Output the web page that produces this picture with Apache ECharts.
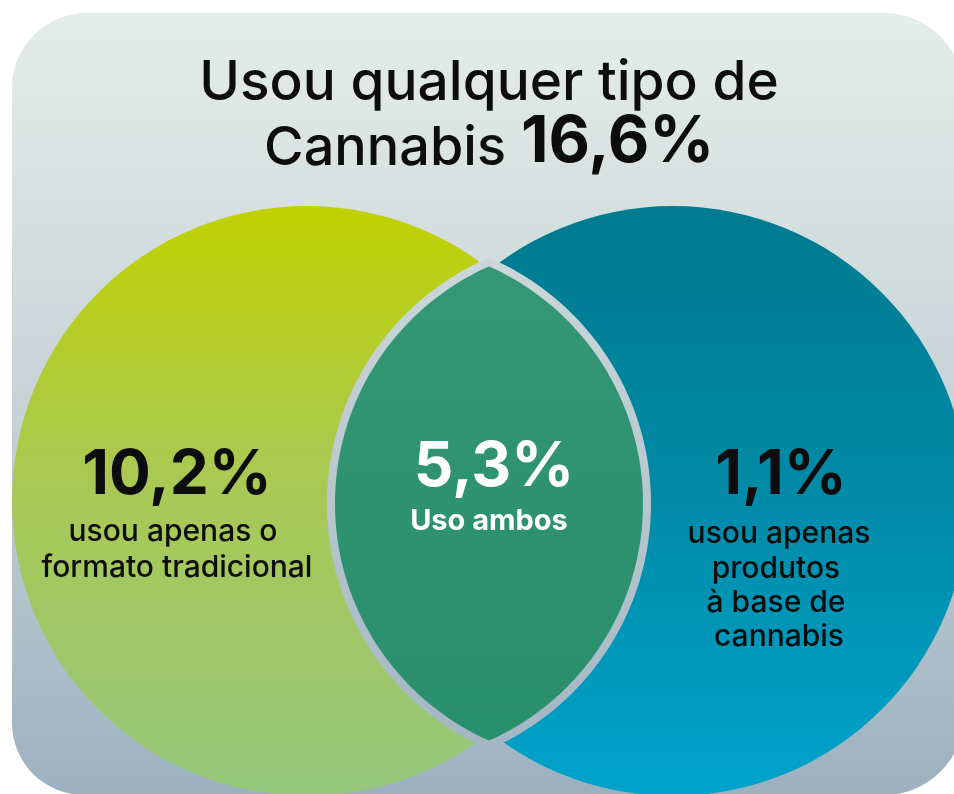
<!DOCTYPE html>
<html>
<head>
<meta charset="utf-8">
<script src="https://cdn.jsdelivr.net/npm/echarts@6/dist/echarts.min.js"></script>
<style>
  html, body { margin: 0; padding: 0; background: #fff; }
  #chart { width: 954px; height: 794px; }
</style>
</head>
<body>
<div id="chart"></div>
<script>
// dados
const titleLine1 = 'Usou qualquer tipo de';
const titleLine2 = 'Cannabis';
const totalValue = 16.6;
const groupValues = [10.2, 5.3, 1.1];
const groupLabels = [
  ['usou apenas o', 'formato tradicional'],
  ['Uso ambos'],
  ['usou apenas', 'produtos', 'à base de', 'cannabis']
];

function pct(v) {
  return v.toFixed(1).replace('.', ',') + '%';
}

const FONT = 'Inter, "Noto Sans", sans-serif';

function grad(stops) {
  return new echarts.graphic.LinearGradient(0, 0, 0, 1,
    stops.map(function (s) { return { offset: s[0], color: s[1] }; }));
}

// layout
const R = 295;
const left = { cx: 307, cy: 501 };
const right = { cx: 673, cy: 501 };
const lens = { x: 489, top: 262, bottom: 745, half: 158 };

// pontos da lente (dois arcos de circulo)
function lensPoints() {
  const halfChord = (lens.bottom - lens.top) / 2;
  const midY = (lens.top + lens.bottom) / 2;
  const r = (halfChord * halfChord + lens.half * lens.half) / (2 * lens.half);
  const off = r - lens.half;
  const a = Math.asin(halfChord / r);
  const pts = [];
  const n = 120;
  for (let k = 0; k <= n; k++) {
    const t = -a + (2 * a) * k / n;
    pts.push([lens.x + off - r * Math.cos(t), midY + r * Math.sin(t)]);
  }
  for (let k = 1; k < n; k++) {
    const t = a - (2 * a) * k / n;
    pts.push([lens.x - off + r * Math.cos(t), midY + r * Math.sin(t)]);
  }
  return pts;
}

function label(text, x, y, size, weight, color) {
  return {
    type: 'text',
    x: x, y: y,
    style: {
      text: text,
      fill: color || '#0d0d0d',
      font: weight + ' ' + size + 'px ' + FONT,
      align: 'center',
      verticalAlign: 'middle'
    }
  };
}

const elements = [];

// fundo
elements.push({
  type: 'rect',
  shape: { x: 12, y: 13, width: 952, height: 782, r: [75, 80, 80, 72] },
  style: { fill: grad([[0, '#e4ede8'], [0.5, '#c7d3d7'], [1, '#9cb1c0']]) }
});

// circulos
elements.push({
  type: 'circle',
  shape: { cx: left.cx, cy: left.cy, r: R },
  style: { fill: grad([[0, '#c0d100'], [0.45, '#a9c952'], [1, '#95c67c']]) }
});
elements.push({
  type: 'circle',
  shape: { cx: right.cx, cy: right.cy, r: R },
  style: { fill: grad([[0, '#007a8e'], [0.5, '#008ba8'], [1, '#00a3cc']]) }
});

// intersecao
elements.push({
  type: 'polygon',
  shape: { points: lensPoints() },
  style: {
    fill: grad([[0, '#349775'], [1, '#298e6c']]),
    stroke: grad([[0, '#cbd7d9'], [1, '#a3b6c3']]),
    lineWidth: 8,
    lineJoin: 'miter'
  }
});

// titulo
elements.push(label(titleLine1, 489, 83, 55, 500));
elements.push({
  type: 'text', x: 506, y: 149,
  style: { text: titleLine2, fill: '#0d0d0d', font: '500 54px ' + FONT, align: 'right', verticalAlign: 'middle' }
});
elements.push({
  type: 'text', x: 521, y: 143,
  style: { text: pct(totalValue), fill: '#0d0d0d', font: '700 64px ' + FONT, align: 'left', verticalAlign: 'middle' }
});

// grupos
const numX = [177, 494, 781];
const numY = [475, 467, 475];
const subX = [
  [173, 177],
  [489],
  [779, 776, 776, 779]
];
const subY = [
  [532, 568],
  [521],
  [534, 569, 603, 637]
];
groupValues.forEach(function (v, i) {
  const col = i === 1 ? '#ffffff' : '#0d0d0d';
  elements.push(label(pct(v), numX[i], numY[i], 62, 700, col));
  groupLabels[i].forEach(function (t, j) {
    elements.push(label(t, subX[i][j], subY[i][j], i === 1 ? 29 : 30, i === 1 ? 700 : 500, col));
  });
});

const chart = echarts.init(document.getElementById('chart'), null, { renderer: 'canvas' });
chart.setOption({
  backgroundColor: '#ffffff',
  animation: false,
  graphic: { elements: elements }
});
</script>
</body>
</html>
